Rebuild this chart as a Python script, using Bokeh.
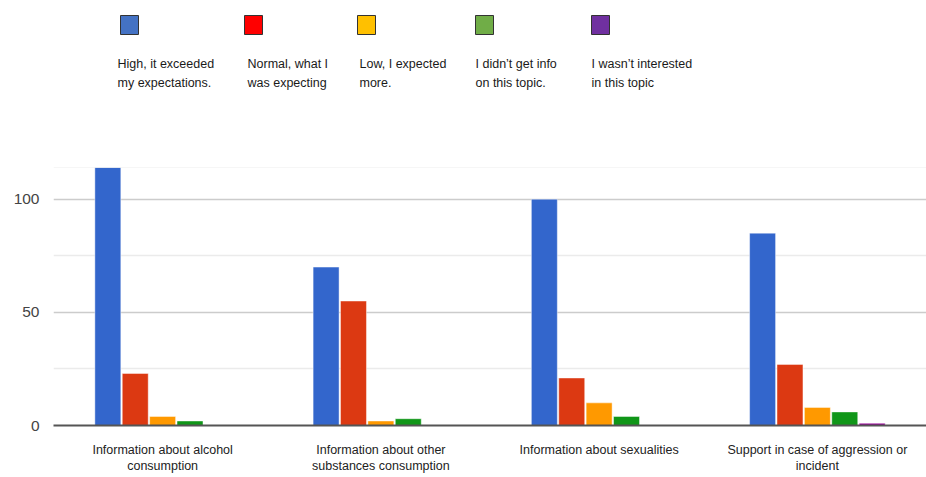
from bokeh.plotting import figure
from bokeh.models import ColumnDataSource, FactorRange, Range1d, FixedTicker, Span
from bokeh.transform import dodge
from bokeh.layouts import column
from bokeh.embed import file_html
from bokeh.resources import INLINE
from bokeh.core.properties import value

# ---- data ----
categories = [
    "Information about alcohol\nconsumption",
    "Information about other\nsubstances consumption",
    "Information about sexualities",
    "Support in case of aggression or\nincident",
]
series_names = [
    "High, it exceeded my expectations.",
    "Normal, what I was expecting",
    "Low, I expected more.",
    "I didn\u2019t get info on this topic.",
    "I wasn\u2019t interested in this topic",
]
high = [114, 70, 100, 85]
normal = [23, 55, 21, 27]
low = [4, 2, 10, 8]
no_info = [2, 3, 4, 6]
not_interested = [0, 0, 0, 1]
y_ticks = [0, 50, 100]
y_minor = [25, 75]

legend_line1 = ["High, it exceeded", "Normal, what I", "Low, I expected",
                "I didn\u2019t get info", "I wasn\u2019t interested"]
legend_line2 = ["my expectations.", "was expecting", "more.",
                "on this topic.", "in this topic"]

# ---- styles / layout ----
bar_colors = ["#3366CC", "#DC3912", "#FF9900", "#109618", "#990099"]
legend_colors = ["#4472C4", "#FF0000", "#FFC000", "#70AD47", "#7030A0"]
legend_x = [120, 244, 357, 475, 591]
legend_text_x = [117, 247, 359, 475, 591]
FONT = "Liberation Sans"
W = 926
LEFT = 53
TOP_H = 167

# ---- legend figure ----
top = figure(width=W, height=TOP_H, x_range=Range1d(LEFT, W), y_range=Range1d(TOP_H, 0),
             output_backend="svg", toolbar_location=None,
             min_border_left=LEFT, min_border_right=0, min_border_top=0, min_border_bottom=0)
top.axis.visible = False
top.grid.visible = False
top.outline_line_color = None
lsrc = ColumnDataSource(dict(
    left=legend_x, right=[v + 18 for v in legend_x], top_=[15] * 5, bottom=[34] * 5,
    color=legend_colors, tx=legend_text_x, l1=legend_line1, l2=legend_line2,
))
top.quad(left="left", right="right", top="top_", bottom="bottom", source=lsrc,
         fill_color="color", line_color="#333333", line_width=1)
top.text(x="tx", y=63, text="l1", source=lsrc, text_font=value(FONT),
         text_font_size="12.5px", text_color="#1a1a1a", text_baseline="middle")
top.text(x="tx", y=82, text="l2", source=lsrc, text_font=value(FONT),
         text_font_size="12.5px", text_color="#1a1a1a", text_baseline="middle")

# ---- chart figure ----
src = ColumnDataSource(dict(cat=categories, s0=high, s1=normal, s2=low, s3=no_info, s4=not_interested))
p = figure(width=W, height=310, x_range=FactorRange(factors=categories),
           y_range=Range1d(0, 114), output_backend="svg", toolbar_location=None,
           min_border_left=LEFT, min_border_right=0, min_border_top=0, min_border_bottom=52)
p.outline_line_color = None

step = 0.1255
for i, key in enumerate(["s0", "s1", "s2", "s3", "s4"]):
    p.vbar(x=dodge("cat", (i - 2) * step, range=p.x_range), top=key, width=0.119,
           source=src, fill_color=bar_colors[i], line_color="white", line_alpha=0.45,
           line_width=1)

p.yaxis.ticker = FixedTicker(ticks=y_ticks, minor_ticks=y_minor)
p.yaxis.axis_line_color = None
p.yaxis.major_tick_line_color = None
p.yaxis.minor_tick_line_color = None
p.yaxis.major_tick_out = 0
p.yaxis.minor_tick_out = 0
p.yaxis.major_label_text_font = FONT
p.yaxis.major_label_text_font_size = "15.5px"
p.yaxis.major_label_text_color = "#444444"
p.yaxis.major_label_standoff = 14

p.xaxis.axis_line_color = "#555555"
p.xaxis.axis_line_width = 2
p.xaxis.major_tick_line_color = None
p.xaxis.minor_tick_line_color = None
p.xaxis.major_tick_out = 0
p.xaxis.minor_tick_out = 0
p.xaxis.major_label_text_font = FONT
p.xaxis.major_label_text_font_size = "12.5px"
p.xaxis.major_label_text_color = "#222222"
p.xaxis.major_label_standoff = 17

p.xgrid.visible = False
p.ygrid.ticker = FixedTicker(ticks=y_ticks, minor_ticks=y_minor)
p.ygrid.grid_line_color = "#cccccc"
p.ygrid.grid_line_width = 1.5
p.ygrid.minor_grid_line_color = "#ebebeb"
p.ygrid.minor_grid_line_width = 1.5
p.add_layout(Span(location=114, dimension="width", line_color="#eeeeee", line_width=1))

layout = column(top, p, spacing=0)
open("out.html", "w").write(file_html(layout, INLINE))
